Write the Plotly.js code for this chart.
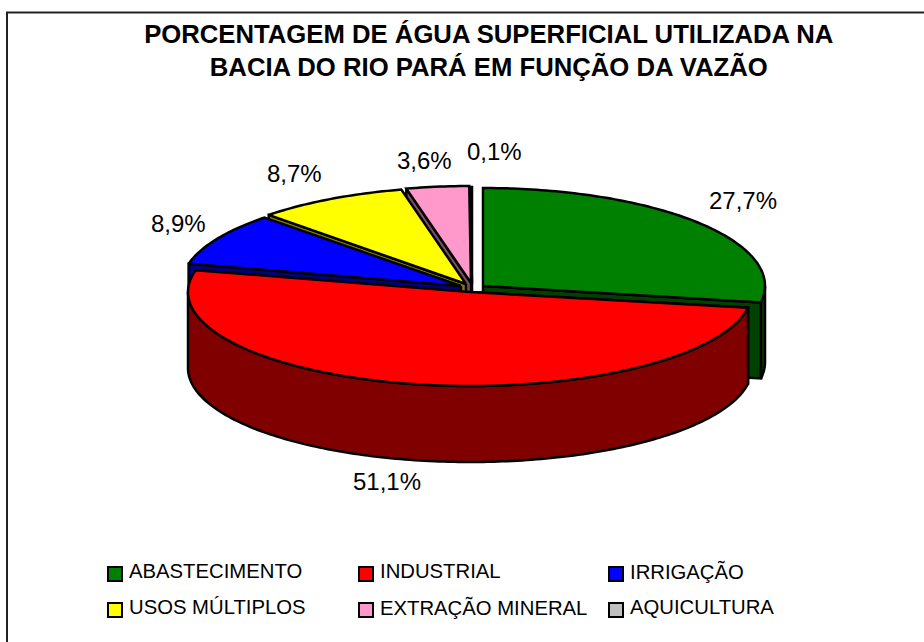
<!DOCTYPE html>
<html>
<head>
<meta charset="utf-8">
<script src="https://cdn.plot.ly/plotly-3.0.1.min.js"></script>
<style>html,body{margin:0;padding:0;background:#fff}#chart{width:924px;height:642px}</style>
</head>
<body>
<div id="chart"></div>
<script>
// Data
const categories = ['ABASTECIMENTO','INDUSTRIAL','IRRIGAÇÃO','USOS MÚLTIPLOS','EXTRAÇÃO MINERAL','AQUICULTURA'];
const values = [27.7, 51.1, 8.9, 8.7, 3.6, 0.1];
const titleLines = ['PORCENTAGEM DE ÁGUA SUPERFICIAL UTILIZADA NA','BACIA DO RIO PARÁ EM FUNÇÃO DA VAZÃO'];

// Style
const topColors = ['#008000','#ff0000','#0000ff','#ffff00','#ff99cc','#c0c0c0'];
const sideColors = ['#004000','#800000','#000080','#808000','#804d66','#606060'];

// Layout of the exploded pie, in pixels
const centers = [[483,286],[470,292],[461,286],[466,284],[471,283],[472,284]];
const radiusX = [282,282,280,281,281,281];
const radiusY = [98,94,96,97,97,97];
const depth = 76;
const paintOrder = [0,5,4,3,2,1];
const labelPos = [[743,200],[387,481],[178,223],[294,173],[424,160],[494,151]];
const legendPos = [[115,574],[366,574],[616,574],[115,610],[366,610],[616,610]];

const total = values.reduce((a,b)=>a+b,0);
const starts = []; let acc = 0;
values.forEach(v=>{starts.push(acc/total); acc+=v;});
const ends = starts.map((s,i)=>s+values[i]/total);

function pt(i,t,dy){
  const a = 2*Math.PI*t;
  return [centers[i][0]+radiusX[i]*Math.sin(a), centers[i][1]-radiusY[i]*Math.cos(a)+(dy||0)];
}
function arc(i,t0,t1,dy){
  const n = Math.max(2,Math.ceil((t1-t0)*360));
  const out=[];
  for(let k=0;k<=n;k++) out.push(pt(i,t0+(t1-t0)*k/n,dy));
  return out;
}
function poly(points,color,lw){
  const closed = points.concat([points[0]]);
  return {type:'scatter',mode:'lines',x:closed.map(p=>p[0]),y:closed.map(p=>p[1]),
    fill:'toself',fillcolor:color,line:{color:'#000',width:lw===undefined?2.5:lw,simplify:false},
    hoverinfo:'skip',showlegend:false};
}

const traces=[];
paintOrder.forEach(i=>{
  const mid=(starts[i]+ends[i])/2;
  const edge = mid<0.5 ? ends[i] : starts[i];
  const c=centers[i], e=pt(i,edge);
  traces.push(poly([[c[0],c[1]],e,[e[0],e[1]+depth],[c[0],c[1]+depth]],sideColors[i]));
  const w0=Math.max(starts[i],0.25), w1=Math.min(ends[i],0.75);
  if(w1>w0){
    traces.push(poly(arc(i,w0,w1,0).concat(arc(i,w0,w1,depth).reverse()),sideColors[i]));
  }
  traces.push(poly([[c[0],c[1]]].concat(arc(i,starts[i],ends[i],0)),topColors[i]));
});

categories.forEach((n,i)=>{
  traces.push({type:'scatter',mode:'markers',x:[legendPos[i][0]],y:[legendPos[i][1]],
    marker:{symbol:'square',size:14,color:topColors[i],line:{color:'#000',width:2}},
    hoverinfo:'skip',showlegend:false});
});

const fontFam='"Liberation Sans", Arial, sans-serif';
const annotations=[];
values.forEach((v,i)=>{
  annotations.push({x:labelPos[i][0],y:labelPos[i][1],xref:'x',yref:'y',showarrow:false,
    text:v.toFixed(1).replace('.',',')+'%',font:{family:fontFam,size:24,color:'#000'},xanchor:'center',yanchor:'middle'});
});
categories.forEach((n,i)=>{
  annotations.push({x:legendPos[i][0]+14,y:legendPos[i][1]-3,xref:'x',yref:'y',showarrow:false,
    text:n,font:{family:fontFam,size:20.3,color:'#000'},xanchor:'left',yanchor:'middle',xshift:-2});
});

const layout={
  width:924,height:642,margin:{l:0,r:0,t:0,b:0},
  paper_bgcolor:'#fff',plot_bgcolor:'#fff',showlegend:false,hovermode:false,
  title:{text:titleLines.join('<br>'),font:{family:fontFam,size:25.7,color:'#000',weight:700},
    x:0.529,xanchor:'center',xref:'paper',y:0.9335,yanchor:'middle',yref:'container',automargin:false},
  xaxis:{range:[0,924],visible:false,fixedrange:true},
  yaxis:{range:[642,0],visible:false,fixedrange:true},
  annotations:annotations,
  shapes:[{type:'rect',xref:'x',yref:'y',x0:7,y0:12.5,x1:1000,y1:700,line:{color:'#222',width:2},fillcolor:'rgba(0,0,0,0)'}]
};
Plotly.newPlot('chart',traces,layout,{displayModeBar:false,staticPlot:true});
</script>
</body>
</html>
